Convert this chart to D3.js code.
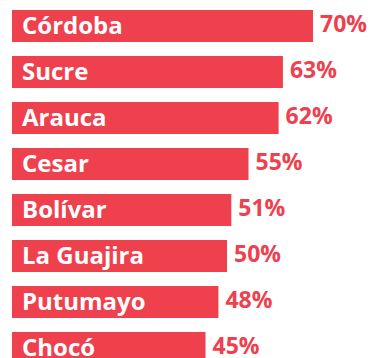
<!DOCTYPE html>
<html>
<head>
<meta charset="utf-8">
<script src="https://cdn.jsdelivr.net/npm/d3@7"></script>
<style>
  html, body { margin: 0; padding: 0; background: #ffffff; overflow: hidden; }
  svg { display: block; }
</style>
</head>
<body>
<svg id="chart" width="372" height="358"></svg>
<script>
// Departamentos y porcentaje
const departamentos = ["Córdoba", "Sucre", "Arauca", "Cesar", "Bolívar", "La Guajira", "Putumayo", "Chocó"];
const porcentajes = [70, 63, 62, 55, 51, 50, 48, 45];

const width = 372, height = 358;
const color = "#ef404e";

const svg = d3.select("#chart");

const x = d3.scaleLinear()
  .domain([0, 100])
  .range([12, 442]);

const p = 14 / 46;
const y = d3.scaleBand()
  .domain(departamentos)
  .range([3, 3 + departamentos.length * 46])
  .paddingInner(p)
  .paddingOuter(p / 2);

const rows = svg.selectAll("g.row")
  .data(departamentos.map((d, i) => ({ name: d, value: porcentajes[i] })))
  .join("g")
  .attr("class", "row");

rows.append("rect")
  .attr("x", x(0))
  .attr("y", d => y(d.name))
  .attr("width", d => x(d.value) - x(0))
  .attr("height", y.bandwidth())
  .attr("fill", color);

rows.append("text")
  .attr("x", x(0) + 10)
  .attr("y", d => y(d.name) + y.bandwidth() / 2 + 7.5)
  .attr("fill", "#ffffff")
  .attr("font-family", "'Open Sans', sans-serif")
  .attr("font-weight", 700)
  .attr("font-size", 24)
  .text(d => d.name);

rows.append("text")
  .attr("x", d => x(d.value) + 7)
  .attr("y", d => y(d.name) + y.bandwidth() / 2 + 5.5)
  .attr("fill", color)
  .attr("font-family", "'Open Sans', sans-serif")
  .attr("font-weight", 700)
  .attr("font-size", 23)
  .text(d => d.value + "%");
</script>
</body>
</html>
